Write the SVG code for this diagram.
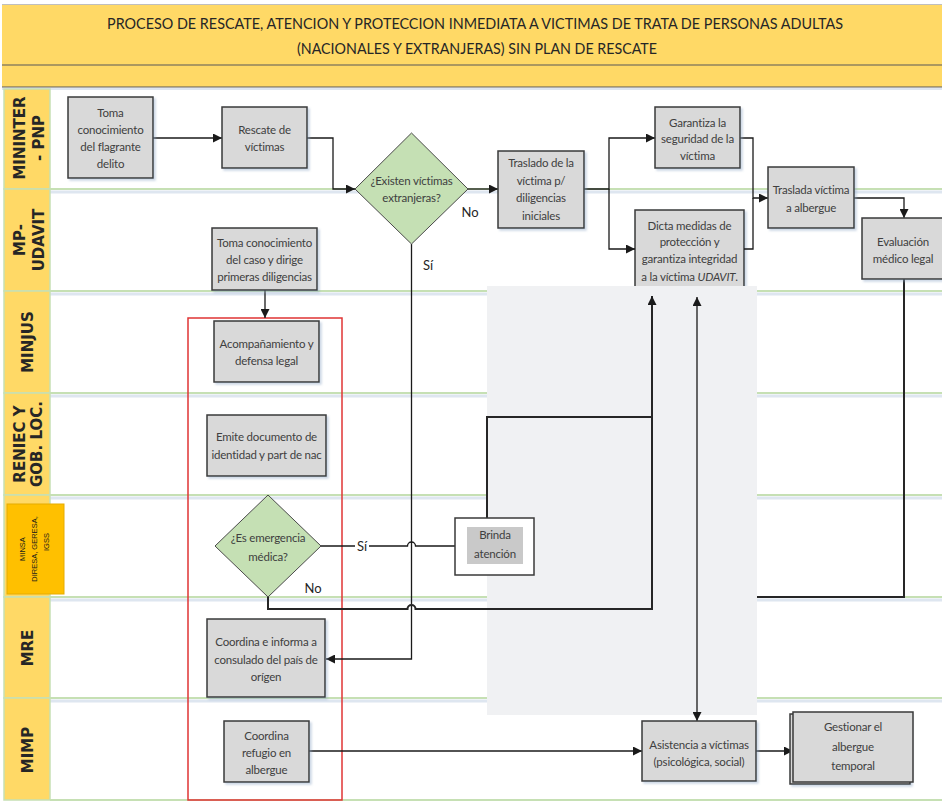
<svg xmlns="http://www.w3.org/2000/svg" width="942" height="802" viewBox="0 0 942 802">
<defs>
<marker id="ah" markerWidth="9" markerHeight="9" refX="9" refY="4.5" orient="auto-start-reverse" markerUnits="userSpaceOnUse"><path d="M0,0 L9,4.5 L0,9 z" fill="#1a1a1a"/></marker>
<filter id="sh" x="-10%" y="-10%" width="130%" height="130%"><feDropShadow dx="2" dy="2" stdDeviation="1" flood-color="#8ea6c4" flood-opacity="0.45"/></filter>
<style>
.ttl{font-family:Lato,"Liberation Sans",sans-serif;font-size:15.5px;fill:#262626;text-anchor:middle}
.lane{font-family:"DejaVu Sans",sans-serif;font-weight:bold;font-size:15px;fill:#262626;text-anchor:middle}
.lcell{fill:#FFD966;stroke:#C6E0B4;stroke-width:1.5}
.lline{stroke:#C6E0B4;stroke-width:2}
.lsh{stroke:#DEE6F0;stroke-width:3}
.box{fill:#D9D9D9;stroke:#3a3a3a;stroke-width:1.5;filter:url(#sh)}
.dia{fill:#C5E0B4;stroke:#4a4a4a;stroke-width:1}
.t{font-family:Lato,"Liberation Sans",sans-serif;font-size:11.5px;letter-spacing:-0.2px;fill:#404040;text-anchor:middle}
.lbl{font-family:Lato,"Liberation Sans",sans-serif;font-size:13px;fill:#262626;text-anchor:middle}
.c{fill:none;stroke:#1a1a1a;stroke-width:1.3}
.ca{fill:none;stroke:#1a1a1a;stroke-width:1.3;marker-end:url(#ah)}
.cb{fill:none;stroke:#262626;stroke-width:2}
.ms{font-family:"Liberation Sans",sans-serif;font-size:7.5px;fill:#1a1a1a;text-anchor:middle}
</style>
</defs>
<rect x="0" y="0" width="942" height="802" fill="#ffffff"/>
<g id="title">
<rect x="2" y="5" width="940" height="60" fill="#FFD966"/>
<rect x="2" y="65" width="940" height="22" fill="#FFD966"/>
<line x1="2" y1="4.5" x2="942" y2="4.5" stroke="#bfbfbf" stroke-width="1"/>
<line x1="2" y1="65" x2="942" y2="65" stroke="#595959" stroke-width="1.2"/>
<line x1="2" y1="87" x2="942" y2="87" stroke="#595959" stroke-width="1.2"/>
<line x1="2" y1="89" x2="942" y2="89" stroke="#DEE6F0" stroke-width="2"/>
<text class="ttl" x="475" y="28.5" textLength="736" lengthAdjust="spacingAndGlyphs">PROCESO DE RESCATE, ATENCION Y PROTECCION INMEDIATA A VICTIMAS DE TRATA DE PERSONAS ADULTAS</text>
<text class="ttl" x="477" y="53.5" textLength="360" lengthAdjust="spacingAndGlyphs">(NACIONALES Y EXTRANJERAS) SIN PLAN DE RESCATE</text>
</g>
<g id="lanes">
<line class="lsh" x1="50" y1="192" x2="942" y2="192"/>
<line class="lsh" x1="50" y1="294" x2="942" y2="294"/>
<line class="lsh" x1="50" y1="396" x2="942" y2="396"/>
<line class="lsh" x1="50" y1="498" x2="942" y2="498"/>
<line class="lsh" x1="50" y1="600" x2="942" y2="600"/>
<line class="lsh" x1="50" y1="701" x2="942" y2="701"/>
<line class="lline" x1="50" y1="189" x2="942" y2="189"/>
<line class="lline" x1="50" y1="291" x2="942" y2="291"/>
<line class="lline" x1="50" y1="393" x2="942" y2="393"/>
<line class="lline" x1="50" y1="495" x2="942" y2="495"/>
<line class="lline" x1="50" y1="597" x2="942" y2="597"/>
<line class="lline" x1="50" y1="698" x2="942" y2="698"/>
<line class="lline" x1="50" y1="800" x2="942" y2="800"/>
<rect class="lcell" x="4" y="89" width="46" height="100"/>
<rect class="lcell" x="4" y="189" width="46" height="102"/>
<rect class="lcell" x="4" y="291" width="46" height="102"/>
<rect class="lcell" x="4" y="393" width="46" height="102"/>
<rect class="lcell" x="4" y="495" width="46" height="102"/>
<rect class="lcell" x="4" y="597" width="46" height="101"/>
<rect class="lcell" x="4" y="698" width="46" height="102"/>
<text class="lane" transform="translate(0,138) rotate(-90)"><tspan x="0" y="24.5">MININTER</tspan><tspan x="0" y="43.5">- PNP</tspan></text>
<text class="lane" transform="translate(0,240) rotate(-90)"><tspan x="0" y="24.5">MP-</tspan><tspan x="0" y="44">UDAVIT</tspan></text>
<text class="lane" transform="translate(0,342) rotate(-90)"><tspan x="0" y="32.5">MINJUS</tspan></text>
<text class="lane" transform="translate(0,444) rotate(-90)"><tspan x="0" y="24.5">RENIEC Y</tspan><tspan x="0" y="42">GOB. LOC.</tspan></text>
<rect x="7" y="504" width="57" height="90" fill="#FFC000" stroke="#E6AC00" stroke-width="1"/>
<text class="ms" transform="translate(0,549) rotate(-90)"><tspan x="0" y="25">MINSA</tspan></text>
<text class="ms" transform="translate(0,549) rotate(-90)"><tspan x="0" y="36.5">DIRESA, GERESA,</tspan></text>
<text class="ms" transform="translate(0,542) rotate(-90)"><tspan x="0" y="48.5">IGSS</tspan></text>
<text class="lane" transform="translate(0,648) rotate(-90)"><tspan x="0" y="32.5">MRE</tspan></text>
<text class="lane" transform="translate(0,750) rotate(-90)"><tspan x="0" y="32.5">MIMP</tspan></text>
</g>
<g id="n-dicta">
<rect class="box" x="635" y="210" width="109" height="95"/>
<text class="t"><tspan x="689.5" y="230">Dicta medidas de</tspan><tspan x="689.5" y="246">protección y</tspan><tspan x="689.5" y="263">garantiza integridad</tspan><tspan x="689.5" y="281">a la víctima <tspan font-style="italic">UDAVIT</tspan>.</tspan></text>
</g>
<rect id="shade" x="487" y="286" width="270" height="429" fill="#F0F1F3"/>
<rect id="group-box" x="188" y="318" width="154" height="482" fill="none" stroke="#E03535" stroke-width="1.5"/>
<g id="connectors">
<path class="ca" d="M153,138 H222"/>
<path class="ca" d="M307,138 H333 V189 H355"/>
<path class="ca" d="M468,189 H498"/>
<path class="ca" d="M584,189 H609 V138 H655"/>
<path class="ca" d="M609,189 V249 H635"/>
<path class="ca" d="M740,138 H753 V198 H768"/>
<path class="c" d="M744,249 H753 V198"/>
<path class="ca" d="M854,198 H904 V218"/>
<path class="cb" d="M904,279 V597 H757"/>
<path class="ca" d="M411.5,244 V659 H326"/>
<path class="ca" d="M265,290 V318"/>
<path class="c" d="M321,546 H407.5 A4,4 0 0 1 415.5,546 H455"/>
<path class="cb" d="M268,597 V609 H407.5 A4,4 0 0 1 415.5,609 H652 V296" marker-end="url(#ah)"/>
<path class="cb" d="M487,518 V417 H652"/>
<path class="ca" d="M697,297 V721" marker-start="url(#ah)"/>
<path class="ca" d="M309,751 H642"/>
<path class="ca" d="M756,751 H793"/>
</g>
<g id="n-toma-flagrante">
<rect class="box" x="68" y="97" width="85" height="81"/>
<text class="t"><tspan x="110.5" y="117">Toma</tspan><tspan x="110.5" y="134">conocimiento</tspan><tspan x="110.5" y="151">del flagrante</tspan><tspan x="110.5" y="168">delito</tspan></text>
</g>
<g id="n-rescate">
<rect class="box" x="222" y="107" width="85" height="61"/>
<text class="t"><tspan x="264.5" y="134">Rescate de</tspan><tspan x="264.5" y="151">víctimas</tspan></text>
</g>
<g id="n-existen">
<polygon class="dia" points="411.5,133 468,189 411.5,244 355,189"/>
<text class="t"><tspan x="411.5" y="185">¿Existen víctimas</tspan><tspan x="411.5" y="202">extranjeras?</tspan></text>
</g>
<g id="n-traslado">
<rect class="box" x="498" y="151" width="86" height="77"/>
<text class="t"><tspan x="541" y="167">Traslado de la</tspan><tspan x="541" y="185">víctima p/</tspan><tspan x="541" y="202">diligencias</tspan><tspan x="541" y="220">iniciales</tspan></text>
</g>
<g id="n-garantiza">
<rect class="box" x="655" y="107" width="85" height="61"/>
<text class="t"><tspan x="697.5" y="127">Garantiza la</tspan><tspan x="697.5" y="143">seguridad de la</tspan><tspan x="697.5" y="160">víctima</tspan></text>
</g>
<g id="n-traslada">
<rect class="box" x="768" y="167" width="86" height="61"/>
<text class="t"><tspan x="811" y="194">Traslada víctima</tspan><tspan x="811" y="212">a albergue</tspan></text>
</g>
<g id="n-evaluacion">
<rect class="box" x="862" y="218" width="82" height="61"/>
<text class="t"><tspan x="903" y="246">Evaluación</tspan><tspan x="903" y="263">médico legal</tspan></text>
</g>
<g id="n-toma-caso">
<rect class="box" x="212" y="228" width="105" height="62"/>
<text class="t"><tspan x="264.5" y="247">Toma conocimiento</tspan><tspan x="264.5" y="264">del caso y dirige</tspan><tspan x="264.5" y="281">primeras diligencias</tspan></text>
</g>
<g id="n-acompanamiento">
<rect class="box" x="214" y="321" width="105" height="61"/>
<text class="t"><tspan x="266.5" y="348">Acompañamiento y</tspan><tspan x="266.5" y="365">defensa legal</tspan></text>
</g>
<g id="n-emite">
<rect class="box" x="207" y="415" width="119" height="61"/>
<text class="t"><tspan x="266.5" y="441">Emite documento de</tspan><tspan x="266.5" y="459">identidad y part de nac</tspan></text>
</g>
<g id="n-emergencia">
<polygon class="dia" points="268,495 321,546 268,597 215,546"/>
<text class="t"><tspan x="268" y="542">¿Es emergencia</tspan><tspan x="268" y="561">médica?</tspan></text>
</g>
<g id="n-brinda">
<rect x="455" y="518" width="79" height="57" fill="#ffffff" stroke="#3a3a3a" stroke-width="1.5"/>
<rect x="467" y="527" width="56" height="37" fill="#C9C9C9"/>
<text class="t"><tspan x="495" y="539">Brinda</tspan><tspan x="495" y="558">atención</tspan></text>
</g>
<g id="n-coordina-consulado">
<rect class="box" x="207" y="619" width="118" height="78"/>
<text class="t"><tspan x="266" y="646">Coordina e informa a</tspan><tspan x="266" y="664">consulado del país de</tspan><tspan x="266" y="681">orígen</tspan></text>
</g>
<g id="n-coordina-refugio">
<rect class="box" x="224" y="721" width="85" height="61"/>
<text class="t"><tspan x="266.5" y="740">Coordina</tspan><tspan x="266.5" y="757">refugio en</tspan><tspan x="266.5" y="774">albergue</tspan></text>
</g>
<g id="n-asistencia">
<rect class="box" x="642" y="721" width="114" height="60"/>
<text class="t" font-size="11px"><tspan x="699" y="749">Asistencia a víctimas</tspan><tspan x="699" y="766">(psicológica, social)</tspan></text>
</g>
<g id="n-gestionar">
<rect x="790" y="714" width="120" height="70" fill="#D9D9D9" stroke="#3a3a3a" stroke-width="1.5" filter="url(#sh)"/>
<rect x="793" y="712" width="120" height="70" fill="#D9D9D9" stroke="#3a3a3a" stroke-width="1.5"/>
<text class="t"><tspan x="853" y="731">Gestionar el</tspan><tspan x="853" y="751">albergue</tspan><tspan x="853" y="770">temporal</tspan></text>
</g>
<g id="edge-labels">
<text class="lbl" x="470" y="217">No</text>
<text class="lbl" x="428" y="270">Sí</text>
<rect x="355" y="538" width="14" height="16" fill="#ffffff"/>
<text class="lbl" x="362" y="551">Sí</text>
<text class="lbl" x="313" y="593">No</text>
</g>
</svg>
